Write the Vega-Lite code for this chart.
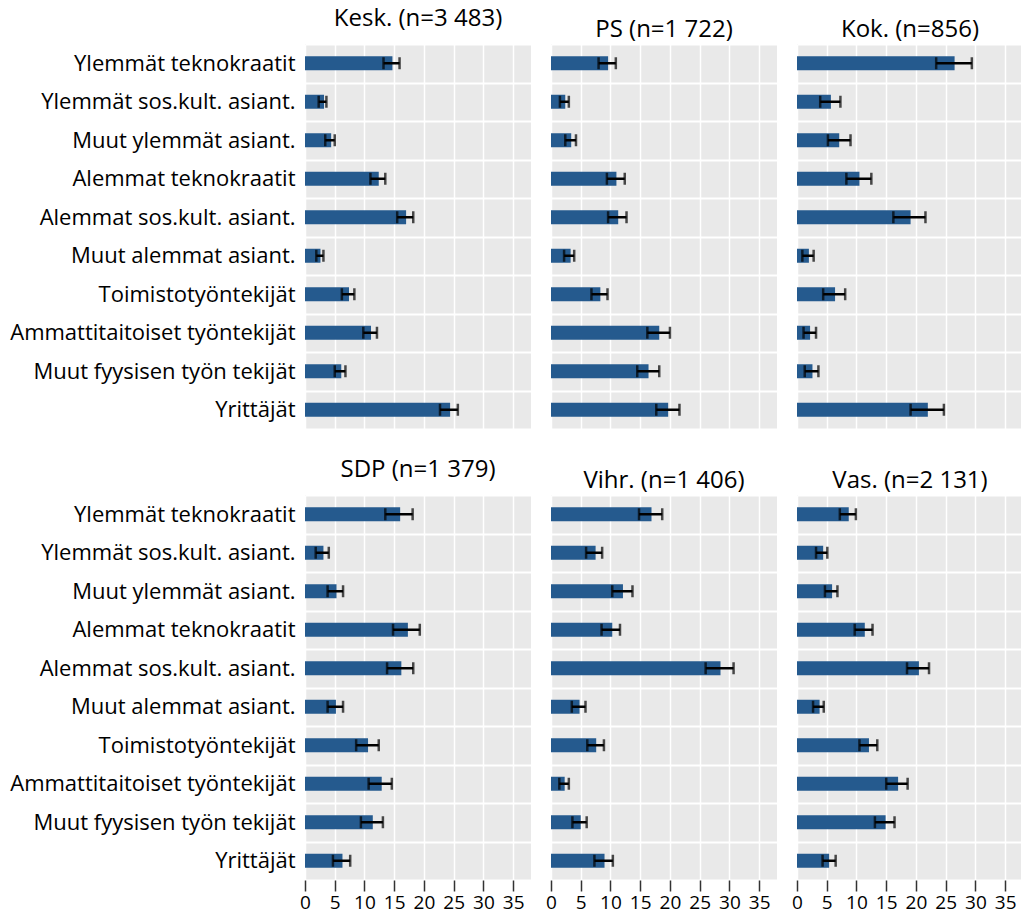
{
  "$schema": "https://vega.github.io/schema/vega-lite/v6.json",
  "padding": {"left": 9, "top": 7, "right": 0, "bottom": 3},
  "datasets": {
    "d": [
      {"p": "Kesk.", "c": "Ylemmät teknokraatit", "v": 14.7, "lo": 13.2, "hi": 15.9},
      {"p": "Kesk.", "c": "Ylemmät sos.kult. asiant.", "v": 3.2, "lo": 2.3, "hi": 3.6},
      {"p": "Kesk.", "c": "Muut ylemmät asiant.", "v": 4.4, "lo": 3.4, "hi": 5.0},
      {"p": "Kesk.", "c": "Alemmat teknokraatit", "v": 12.4, "lo": 11.0, "hi": 13.5},
      {"p": "Kesk.", "c": "Alemmat sos.kult. asiant.", "v": 17.0, "lo": 15.5, "hi": 18.2},
      {"p": "Kesk.", "c": "Muut alemmat asiant.", "v": 2.6, "lo": 1.9, "hi": 3.1},
      {"p": "Kesk.", "c": "Toimistotyöntekijät", "v": 7.4, "lo": 6.2, "hi": 8.3},
      {"p": "Kesk.", "c": "Ammattitaitoiset työntekijät", "v": 11.1, "lo": 9.8, "hi": 12.1},
      {"p": "Kesk.", "c": "Muut fyysisen työn tekijät", "v": 6.1, "lo": 5.0, "hi": 6.8},
      {"p": "Kesk.", "c": "Yrittäjät", "v": 24.4, "lo": 22.7, "hi": 25.7},
      {"p": "PS", "c": "Ylemmät teknokraatit", "v": 9.6, "lo": 8.0, "hi": 10.9},
      {"p": "PS", "c": "Ylemmät sos.kult. asiant.", "v": 2.4, "lo": 1.5, "hi": 3.0},
      {"p": "PS", "c": "Muut ylemmät asiant.", "v": 3.4, "lo": 2.4, "hi": 4.2},
      {"p": "PS", "c": "Alemmat teknokraatit", "v": 11.0, "lo": 9.4, "hi": 12.4},
      {"p": "PS", "c": "Alemmat sos.kult. asiant.", "v": 11.3, "lo": 9.6, "hi": 12.7},
      {"p": "PS", "c": "Muut alemmat asiant.", "v": 3.3, "lo": 2.2, "hi": 3.9},
      {"p": "PS", "c": "Toimistotyöntekijät", "v": 8.3, "lo": 6.8, "hi": 9.5},
      {"p": "PS", "c": "Ammattitaitoiset työntekijät", "v": 18.2, "lo": 16.2, "hi": 20.0},
      {"p": "PS", "c": "Muut fyysisen työn tekijät", "v": 16.4, "lo": 14.5, "hi": 18.2},
      {"p": "PS", "c": "Yrittäjät", "v": 19.7, "lo": 17.7, "hi": 21.6},
      {"p": "Kok.", "c": "Ylemmät teknokraatit", "v": 26.5, "lo": 23.4, "hi": 29.4},
      {"p": "Kok.", "c": "Ylemmät sos.kult. asiant.", "v": 5.7, "lo": 3.9, "hi": 7.3},
      {"p": "Kok.", "c": "Muut ylemmät asiant.", "v": 7.1, "lo": 5.2, "hi": 9.0},
      {"p": "Kok.", "c": "Alemmat teknokraatit", "v": 10.5, "lo": 8.3, "hi": 12.5},
      {"p": "Kok.", "c": "Alemmat sos.kult. asiant.", "v": 19.1, "lo": 16.2, "hi": 21.6},
      {"p": "Kok.", "c": "Muut alemmat asiant.", "v": 2.0, "lo": 0.9, "hi": 2.8},
      {"p": "Kok.", "c": "Toimistotyöntekijät", "v": 6.4, "lo": 4.4, "hi": 8.1},
      {"p": "Kok.", "c": "Ammattitaitoiset työntekijät", "v": 2.2, "lo": 1.1, "hi": 3.2},
      {"p": "Kok.", "c": "Muut fyysisen työn tekijät", "v": 2.6, "lo": 1.3, "hi": 3.6},
      {"p": "Kok.", "c": "Yrittäjät", "v": 22.0, "lo": 19.1, "hi": 24.7},
      {"p": "SDP", "c": "Ylemmät teknokraatit", "v": 16.0, "lo": 13.5, "hi": 18.1},
      {"p": "SDP", "c": "Ylemmät sos.kult. asiant.", "v": 3.1, "lo": 1.8, "hi": 4.0},
      {"p": "SDP", "c": "Muut ylemmät asiant.", "v": 5.3, "lo": 3.8, "hi": 6.4},
      {"p": "SDP", "c": "Alemmat teknokraatit", "v": 17.3, "lo": 14.8, "hi": 19.3},
      {"p": "SDP", "c": "Alemmat sos.kult. asiant.", "v": 16.2, "lo": 13.8, "hi": 18.2},
      {"p": "SDP", "c": "Muut alemmat asiant.", "v": 5.2, "lo": 3.8, "hi": 6.4},
      {"p": "SDP", "c": "Toimistotyöntekijät", "v": 10.6, "lo": 8.6, "hi": 12.4},
      {"p": "SDP", "c": "Ammattitaitoiset työntekijät", "v": 12.9, "lo": 10.7, "hi": 14.6},
      {"p": "SDP", "c": "Muut fyysisen työn tekijät", "v": 11.4, "lo": 9.4, "hi": 13.1},
      {"p": "SDP", "c": "Yrittäjät", "v": 6.3, "lo": 4.7, "hi": 7.6},
      {"p": "Vihr.", "c": "Ylemmät teknokraatit", "v": 16.9, "lo": 14.8, "hi": 18.7},
      {"p": "Vihr.", "c": "Ylemmät sos.kult. asiant.", "v": 7.5, "lo": 5.9, "hi": 8.6},
      {"p": "Vihr.", "c": "Muut ylemmät asiant.", "v": 12.1, "lo": 10.3, "hi": 13.7},
      {"p": "Vihr.", "c": "Alemmat teknokraatit", "v": 10.3, "lo": 8.5, "hi": 11.6},
      {"p": "Vihr.", "c": "Alemmat sos.kult. asiant.", "v": 28.5, "lo": 26.0, "hi": 30.7},
      {"p": "Vihr.", "c": "Muut alemmat asiant.", "v": 4.8, "lo": 3.5, "hi": 5.8},
      {"p": "Vihr.", "c": "Toimistotyöntekijät", "v": 7.6, "lo": 6.1, "hi": 8.9},
      {"p": "Vihr.", "c": "Ammattitaitoiset työntekijät", "v": 2.3, "lo": 1.4, "hi": 3.0},
      {"p": "Vihr.", "c": "Muut fyysisen työn tekijät", "v": 5.0, "lo": 3.6, "hi": 6.0},
      {"p": "Vihr.", "c": "Yrittäjät", "v": 9.0, "lo": 7.3, "hi": 10.4},
      {"p": "Vas.", "c": "Ylemmät teknokraatit", "v": 8.7, "lo": 7.2, "hi": 9.9},
      {"p": "Vas.", "c": "Ylemmät sos.kult. asiant.", "v": 4.4, "lo": 3.2, "hi": 5.1},
      {"p": "Vas.", "c": "Muut ylemmät asiant.", "v": 5.9, "lo": 4.7, "hi": 6.8},
      {"p": "Vas.", "c": "Alemmat teknokraatit", "v": 11.4, "lo": 9.7, "hi": 12.7},
      {"p": "Vas.", "c": "Alemmat sos.kult. asiant.", "v": 20.5, "lo": 18.5, "hi": 22.2},
      {"p": "Vas.", "c": "Muut alemmat asiant.", "v": 3.8, "lo": 2.7, "hi": 4.5},
      {"p": "Vas.", "c": "Toimistotyöntekijät", "v": 12.1, "lo": 10.5, "hi": 13.5},
      {"p": "Vas.", "c": "Ammattitaitoiset työntekijät", "v": 17.0, "lo": 15.0, "hi": 18.6},
      {"p": "Vas.", "c": "Muut fyysisen työn tekijät", "v": 14.9, "lo": 13.1, "hi": 16.4},
      {"p": "Vas.", "c": "Yrittäjät", "v": 5.4, "lo": 4.3, "hi": 6.5}
    ]
  },
  "data": {"name": "d"},
  "columns": 3,
  "spacing": {"row": 29, "column": 14},
  "concat": [
    {
      "title": "Kesk. (n=3 483)",
      "width": 226, "height": 385,
      "transform": [{"filter": "datum.p === 'Kesk.'"}],
      "encoding": {"y": {"field": "c", "type": "nominal", "sort": null, "title": null, "scale": {"paddingInner": 0, "paddingOuter": 0}, "axis": {"labels": true}}},
      "layer": [
        {"mark": {"type": "bar", "size": 14, "color": "#255a8e"}, "encoding": {"x": {"field": "v", "type": "quantitative", "title": null, "scale": {"domain": [0, 38], "nice": false}, "axis": {"labels": false, "ticks": false}}}},
        {"mark": {"type": "rule", "color": "black", "strokeWidth": 2.5}, "encoding": {"x": {"field": "lo", "type": "quantitative", "title": null}, "x2": {"field": "hi"}}},
        {"mark": {"type": "tick", "orient": "vertical", "size": 12, "thickness": 2.5, "color": "black"}, "encoding": {"x": {"field": "lo", "type": "quantitative", "title": null}}},
        {"mark": {"type": "tick", "orient": "vertical", "size": 12, "thickness": 2.5, "color": "black"}, "encoding": {"x": {"field": "hi", "type": "quantitative", "title": null}}}
      ]
    },
    {
      "title": "PS (n=1 722)",
      "width": 226, "height": 385,
      "transform": [{"filter": "datum.p === 'PS'"}],
      "encoding": {"y": {"field": "c", "type": "nominal", "sort": null, "title": null, "scale": {"paddingInner": 0, "paddingOuter": 0}, "axis": {"labels": false}}},
      "layer": [
        {"mark": {"type": "bar", "size": 14, "color": "#255a8e"}, "encoding": {"x": {"field": "v", "type": "quantitative", "title": null, "scale": {"domain": [0, 38], "nice": false}, "axis": {"labels": false, "ticks": false}}}},
        {"mark": {"type": "rule", "color": "black", "strokeWidth": 2.5}, "encoding": {"x": {"field": "lo", "type": "quantitative", "title": null}, "x2": {"field": "hi"}}},
        {"mark": {"type": "tick", "orient": "vertical", "size": 12, "thickness": 2.5, "color": "black"}, "encoding": {"x": {"field": "lo", "type": "quantitative", "title": null}}},
        {"mark": {"type": "tick", "orient": "vertical", "size": 12, "thickness": 2.5, "color": "black"}, "encoding": {"x": {"field": "hi", "type": "quantitative", "title": null}}}
      ]
    },
    {
      "title": "Kok. (n=856)",
      "width": 226, "height": 385,
      "transform": [{"filter": "datum.p === 'Kok.'"}],
      "encoding": {"y": {"field": "c", "type": "nominal", "sort": null, "title": null, "scale": {"paddingInner": 0, "paddingOuter": 0}, "axis": {"labels": false}}},
      "layer": [
        {"mark": {"type": "bar", "size": 14, "color": "#255a8e"}, "encoding": {"x": {"field": "v", "type": "quantitative", "title": null, "scale": {"domain": [0, 38], "nice": false}, "axis": {"labels": false, "ticks": false}}}},
        {"mark": {"type": "rule", "color": "black", "strokeWidth": 2.5}, "encoding": {"x": {"field": "lo", "type": "quantitative", "title": null}, "x2": {"field": "hi"}}},
        {"mark": {"type": "tick", "orient": "vertical", "size": 12, "thickness": 2.5, "color": "black"}, "encoding": {"x": {"field": "lo", "type": "quantitative", "title": null}}},
        {"mark": {"type": "tick", "orient": "vertical", "size": 12, "thickness": 2.5, "color": "black"}, "encoding": {"x": {"field": "hi", "type": "quantitative", "title": null}}}
      ]
    },
    {
      "title": "SDP (n=1 379)",
      "width": 226, "height": 385,
      "transform": [{"filter": "datum.p === 'SDP'"}],
      "encoding": {"y": {"field": "c", "type": "nominal", "sort": null, "title": null, "scale": {"paddingInner": 0, "paddingOuter": 0}, "axis": {"labels": true}}},
      "layer": [
        {"mark": {"type": "bar", "size": 14, "color": "#255a8e"}, "encoding": {"x": {"field": "v", "type": "quantitative", "title": null, "scale": {"domain": [0, 38], "nice": false}, "axis": {"labels": true, "ticks": true}}}},
        {"mark": {"type": "rule", "color": "black", "strokeWidth": 2.5}, "encoding": {"x": {"field": "lo", "type": "quantitative", "title": null}, "x2": {"field": "hi"}}},
        {"mark": {"type": "tick", "orient": "vertical", "size": 12, "thickness": 2.5, "color": "black"}, "encoding": {"x": {"field": "lo", "type": "quantitative", "title": null}}},
        {"mark": {"type": "tick", "orient": "vertical", "size": 12, "thickness": 2.5, "color": "black"}, "encoding": {"x": {"field": "hi", "type": "quantitative", "title": null}}}
      ]
    },
    {
      "title": "Vihr. (n=1 406)",
      "width": 226, "height": 385,
      "transform": [{"filter": "datum.p === 'Vihr.'"}],
      "encoding": {"y": {"field": "c", "type": "nominal", "sort": null, "title": null, "scale": {"paddingInner": 0, "paddingOuter": 0}, "axis": {"labels": false}}},
      "layer": [
        {"mark": {"type": "bar", "size": 14, "color": "#255a8e"}, "encoding": {"x": {"field": "v", "type": "quantitative", "title": null, "scale": {"domain": [0, 38], "nice": false}, "axis": {"labels": true, "ticks": true}}}},
        {"mark": {"type": "rule", "color": "black", "strokeWidth": 2.5}, "encoding": {"x": {"field": "lo", "type": "quantitative", "title": null}, "x2": {"field": "hi"}}},
        {"mark": {"type": "tick", "orient": "vertical", "size": 12, "thickness": 2.5, "color": "black"}, "encoding": {"x": {"field": "lo", "type": "quantitative", "title": null}}},
        {"mark": {"type": "tick", "orient": "vertical", "size": 12, "thickness": 2.5, "color": "black"}, "encoding": {"x": {"field": "hi", "type": "quantitative", "title": null}}}
      ]
    },
    {
      "title": "Vas. (n=2 131)",
      "width": 226, "height": 385,
      "transform": [{"filter": "datum.p === 'Vas.'"}],
      "encoding": {"y": {"field": "c", "type": "nominal", "sort": null, "title": null, "scale": {"paddingInner": 0, "paddingOuter": 0}, "axis": {"labels": false}}},
      "layer": [
        {"mark": {"type": "bar", "size": 14, "color": "#255a8e"}, "encoding": {"x": {"field": "v", "type": "quantitative", "title": null, "scale": {"domain": [0, 38], "nice": false}, "axis": {"labels": true, "ticks": true}}}},
        {"mark": {"type": "rule", "color": "black", "strokeWidth": 2.5}, "encoding": {"x": {"field": "lo", "type": "quantitative", "title": null}, "x2": {"field": "hi"}}},
        {"mark": {"type": "tick", "orient": "vertical", "size": 12, "thickness": 2.5, "color": "black"}, "encoding": {"x": {"field": "lo", "type": "quantitative", "title": null}}},
        {"mark": {"type": "tick", "orient": "vertical", "size": 12, "thickness": 2.5, "color": "black"}, "encoding": {"x": {"field": "hi", "type": "quantitative", "title": null}}}
      ]
    }
  ],
  "config": {
    "font": "Open Sans",
    "view": {"fill": "#e9e9e9", "stroke": null},
    "title": {"fontSize": 24, "fontWeight": "normal", "color": "#000000", "anchor": "middle", "offset": 2},
    "axisY": {"ticks": false, "domain": false, "labelFontSize": 22, "labelColor": "#000000", "labelPadding": 10, "labelLimit": 400, "grid": true, "gridColor": "#ffffff", "gridWidth": 2, "gridOpacity": 1, "tickBand": "extent"},
    "axisX": {"domain": false, "values": [0, 5, 10, 15, 20, 25, 30, 35], "tickSize": 11, "tickColor": "#333333", "tickWidth": 1.5, "labelFontSize": 19, "labelColor": "#000000", "labelPadding": 2, "labelFlush": false, "labelOverlap": false, "grid": true, "gridColor": "#ffffff", "gridWidth": 1.5, "gridOpacity": 1}
  }
}
